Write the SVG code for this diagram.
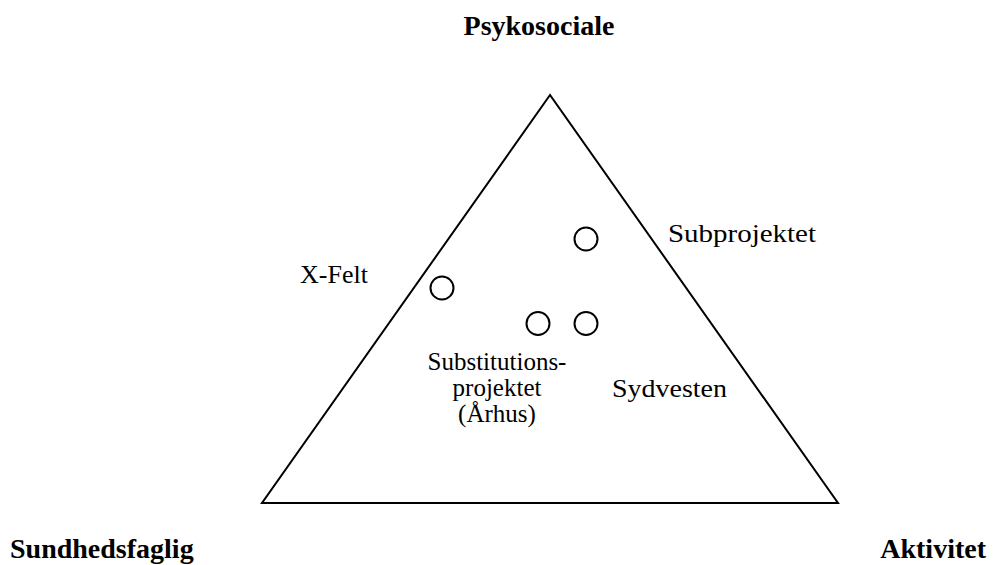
<svg xmlns="http://www.w3.org/2000/svg" width="995" height="565" viewBox="0 0 995 565">
<style>
text{font-family:"Liberation Serif","Times New Roman",serif;font-size:26px;fill:#000}
.b{font-weight:bold;font-size:28px}
.m{text-anchor:middle}
.s{font-size:25px}
.pt{fill:none;stroke:#000;stroke-width:2}
</style>
<rect width="995" height="565" fill="#fff"/>
<g id="triangle"><polygon points="550,95 262,503 838,503" fill="none" stroke="#000" stroke-width="2" stroke-linejoin="miter"/></g>
<g id="psykosociale"><text class="b m" x="539" y="35">Psykosociale</text></g>
<g id="sundhedsfaglig"><text class="b" x="10" y="558">Sundhedsfaglig</text></g>
<g id="aktivitet"><text class="b" x="986" y="558" text-anchor="end">Aktivitet</text></g>
<g id="subprojektet"><circle class="pt" cx="586" cy="239" r="11.5"/><text x="668" y="242" textLength="148" lengthAdjust="spacingAndGlyphs">Subprojektet</text></g>
<g id="xfelt"><circle class="pt" cx="442" cy="288" r="11.5"/><text x="300" y="283">X-Felt</text></g>
<g id="substitution"><circle class="pt" cx="538" cy="323.5" r="11.5"/><text class="m s" x="497" y="370">Substitutions-</text><text class="m s" x="497" y="396">projektet</text><text class="m s" x="497" y="422">(Århus)</text></g>
<g id="sydvesten"><circle class="pt" cx="586" cy="323.5" r="11.5"/><text x="612" y="397" textLength="115" lengthAdjust="spacingAndGlyphs">Sydvesten</text></g>
<g id="connectors"/>
</svg>
